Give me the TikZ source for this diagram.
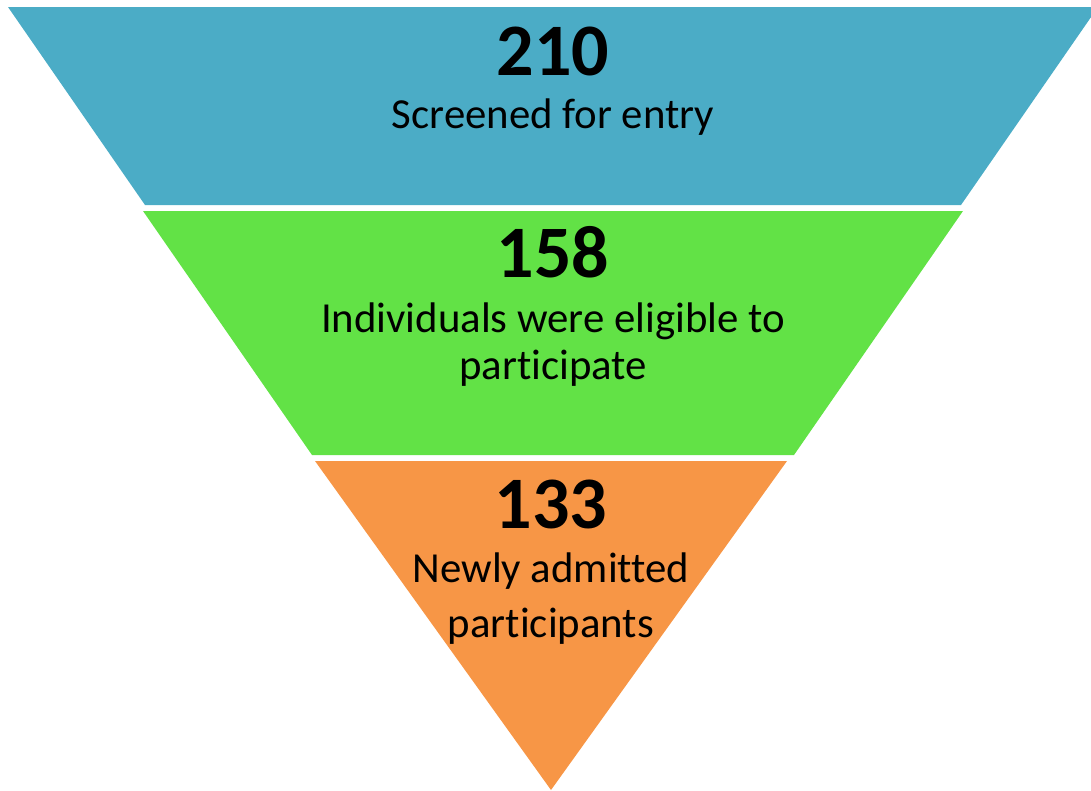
\documentclass[tikz,border=0pt]{standalone}
\usepackage{fontspec}
\setmainfont[Ligatures=NoCommon]{Carlito}
\usepackage{tikz}
\usetikzlibrary{positioning}

\definecolor{funnelblue}{HTML}{4BACC6}
\definecolor{funnelgreen}{HTML}{62E246}
\definecolor{funnelorange}{HTML}{F79646}

\begin{document}
\begin{tikzpicture}[x=1pt, y=-1pt,
	countnode/.style={inner sep=0pt, anchor=base, font=\fontsize{74}{80}\selectfont\bfseries},
	labelnode/.style={inner sep=0pt, anchor=base, font=\fontsize{42.8}{50}\selectfont},
	]
	\useasboundingbox (0,0) rectangle (1091,790);
	
	%Bands
	\fill[funnelblue]   (8,7) -- (1098,7) -- (961,205) -- (145,205) -- cycle;
	\fill[funnelgreen]  (143,211) -- (963,211) -- (794,455) -- (312,455) -- cycle;
	\fill[funnelorange] (315,461) -- (787,461) -- (551,790) -- cycle;
	
	%Nodes
	\node[countnode] (n210) at (553,75)  {210};
	\node[labelnode] (l210) at (553,128) {Screened for entry};
	\node[countnode] (n158) at (553,277) {158};
	\node[labelnode] (l158a) at (553,332) {Individuals were eligible to};
	\node[labelnode] (l158b) at (553,379) {participate};
	\node[countnode] (n133) at (551,528) {133};
	\node[labelnode] (l133a) at (551,582) {Newly admitted};
	\node[labelnode] (l133b) at (551,637) {participants};
\end{tikzpicture}
\end{document}
